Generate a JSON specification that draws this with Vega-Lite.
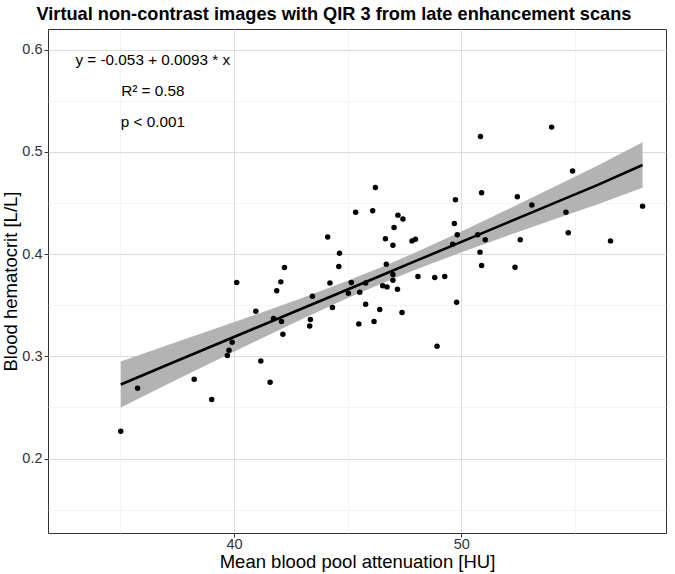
{
  "$schema": "https://vega.github.io/schema/vega-lite/v6.json",
  "width": 618,
  "height": 504,
  "autosize": {"type": "none"},
  "padding": {"left": 48, "top": 29, "right": 9, "bottom": 41},
  "background": "white",
  "title": {
    "text": "Virtual non-contrast images with QIR 3 from late enhancement scans",
    "font": "Liberation Sans",
    "fontSize": 18.2,
    "fontWeight": "bold",
    "color": "#000000",
    "anchor": "middle",
    "frame": "bounds",
    "offset": 5
  },
  "config": {
    "view": {"stroke": "#333333", "strokeWidth": 1},
    "axis": {
      "labelFont": "Liberation Sans",
      "titleFont": "Liberation Sans",
      "labelFontSize": 14.5,
      "titleFontSize": 18.5,
      "labelColor": "#333333",
      "titleColor": "#000000",
      "titleFontWeight": "normal",
      "tickColor": "#333333",
      "tickSize": 4,
      "domain": false,
      "gridColor": "#dcdcdc",
      "gridWidth": 1
    }
  },
  "datasets": {
    "pts": [
      {"x": 35.02, "y": 0.2267}, {"x": 35.76, "y": 0.2688}, {"x": 38.25, "y": 0.2776}, {"x": 39.02, "y": 0.2578},
      {"x": 39.71, "y": 0.3008}, {"x": 39.78, "y": 0.306}, {"x": 39.92, "y": 0.3139}, {"x": 41.18, "y": 0.2955},
      {"x": 41.59, "y": 0.2747}, {"x": 42.15, "y": 0.3217}, {"x": 40.12, "y": 0.3723}, {"x": 40.96, "y": 0.3442},
      {"x": 41.74, "y": 0.3371}, {"x": 41.88, "y": 0.3641}, {"x": 42.06, "y": 0.3729}, {"x": 42.22, "y": 0.387},
      {"x": 42.09, "y": 0.3341}, {"x": 43.45, "y": 0.3589}, {"x": 43.36, "y": 0.3361}, {"x": 43.33, "y": 0.3298},
      {"x": 44.12, "y": 0.4169}, {"x": 44.64, "y": 0.401}, {"x": 44.61, "y": 0.388}, {"x": 44.22, "y": 0.3719},
      {"x": 44.33, "y": 0.3478}, {"x": 45.16, "y": 0.3723}, {"x": 45.03, "y": 0.3618}, {"x": 45.53, "y": 0.3628},
      {"x": 45.79, "y": 0.3719}, {"x": 45.79, "y": 0.3511}, {"x": 45.49, "y": 0.3318}, {"x": 46.16, "y": 0.3341},
      {"x": 46.41, "y": 0.3459}, {"x": 46.54, "y": 0.369}, {"x": 46.73, "y": 0.368}, {"x": 46.66, "y": 0.415},
      {"x": 47.04, "y": 0.4261}, {"x": 46.99, "y": 0.4088}, {"x": 46.7, "y": 0.3902}, {"x": 46.99, "y": 0.3801},
      {"x": 46.99, "y": 0.3745}, {"x": 47.19, "y": 0.3657}, {"x": 50.84, "y": 0.5152}, {"x": 53.97, "y": 0.5243},
      {"x": 54.89, "y": 0.4813}, {"x": 50.89, "y": 0.46}, {"x": 52.46, "y": 0.4561}, {"x": 53.1, "y": 0.448},
      {"x": 49.74, "y": 0.4532}, {"x": 49.69, "y": 0.4301}, {"x": 49.82, "y": 0.4189}, {"x": 49.62, "y": 0.4098},
      {"x": 50.72, "y": 0.4189}, {"x": 51.05, "y": 0.414}, {"x": 50.82, "y": 0.402}, {"x": 50.89, "y": 0.3889},
      {"x": 52.36, "y": 0.3873}, {"x": 52.59, "y": 0.414}, {"x": 54.6, "y": 0.4411}, {"x": 54.7, "y": 0.4209},
      {"x": 56.56, "y": 0.413}, {"x": 57.97, "y": 0.447}, {"x": 49.79, "y": 0.353}, {"x": 48.09, "y": 0.3782},
      {"x": 48.83, "y": 0.3772}, {"x": 49.27, "y": 0.3782}, {"x": 47.21, "y": 0.4382}, {"x": 47.43, "y": 0.4343},
      {"x": 47.83, "y": 0.413}, {"x": 47.98, "y": 0.4147}, {"x": 47.39, "y": 0.3429}, {"x": 48.93, "y": 0.3099},
      {"x": 46.22, "y": 0.4653}, {"x": 45.35, "y": 0.4411}, {"x": 46.1, "y": 0.4424}
    ],
    "band": [
      {"x": 35.02, "lo": 0.2499, "hi": 0.2951, "fit": 0.2725},
      {"x": 37, "lo": 0.2719, "hi": 0.3103, "fit": 0.2911},
      {"x": 39, "lo": 0.2938, "hi": 0.3257, "fit": 0.3097},
      {"x": 41, "lo": 0.3154, "hi": 0.3412, "fit": 0.3283},
      {"x": 43, "lo": 0.3366, "hi": 0.3572, "fit": 0.3469},
      {"x": 45, "lo": 0.357, "hi": 0.374, "fit": 0.3655},
      {"x": 46.55, "lo": 0.3719, "hi": 0.3879, "fit": 0.3799},
      {"x": 48, "lo": 0.385, "hi": 0.4018, "fit": 0.3934},
      {"x": 50, "lo": 0.4018, "hi": 0.4222, "fit": 0.412},
      {"x": 52, "lo": 0.4178, "hi": 0.4434, "fit": 0.4306},
      {"x": 54, "lo": 0.4334, "hi": 0.465, "fit": 0.4492},
      {"x": 56, "lo": 0.4488, "hi": 0.4868, "fit": 0.4678},
      {"x": 57.97, "lo": 0.4649, "hi": 0.5096, "fit": 0.4873}
    ],
    "ann": [
      {"x": 36.43, "y": 0.59, "label": "y = -0.053 + 0.0093 * x"},
      {"x": 36.43, "y": 0.56, "label": "R² = 0.58"},
      {"x": 36.43, "y": 0.529, "label": "p < 0.001"}
    ]
  },
  "layer": [
    {
      "data": {"name": "band"},
      "mark": {"type": "area", "color": "#b3b3b3", "opacity": 1},
      "encoding": {
        "x": {"field": "x", "type": "quantitative", "scale": {"domain": [31.82, 59.0], "nice": false, "zero": false},
              "axis": {"values": [35, 45, 55], "grid": true, "gridColor": "#ececec", "gridWidth": 0.6, "labels": false, "ticks": false, "title": null, "orient": "bottom"}},
        "y": {"field": "lo", "type": "quantitative", "scale": {"domain": [0.1272, 0.6203], "nice": false, "zero": false},
              "axis": {"values": [0.15, 0.25, 0.35, 0.45, 0.55], "grid": true, "gridColor": "#ececec", "gridWidth": 0.6, "labels": false, "ticks": false, "title": null, "orient": "left"}},
        "y2": {"field": "hi"}
      }
    },
    {
      "data": {"name": "band"},
      "mark": {"type": "line", "color": "#000000", "strokeWidth": 2.6},
      "encoding": {
        "x": {"field": "x", "type": "quantitative",
              "axis": {"values": [40, 50], "grid": true, "title": "Mean blood pool attenuation [HU]", "orient": "bottom", "labelPadding": 0, "titlePadding": 2}},
        "y": {"field": "fit", "type": "quantitative",
              "axis": {"values": [0.2, 0.3, 0.4, 0.5, 0.6], "grid": true, "title": "Blood hematocrit [L/L]", "orient": "left", "labelPadding": 2, "titlePadding": 1, "format": ".1f"}}
      }
    },
    {
      "data": {"name": "pts"},
      "mark": {"type": "circle", "color": "#000000", "opacity": 1, "size": 30},
      "encoding": {
        "x": {"field": "x", "type": "quantitative", "axis": null},
        "y": {"field": "y", "type": "quantitative", "axis": null}
      }
    },
    {
      "data": {"name": "ann"},
      "mark": {"type": "text", "font": "Liberation Sans", "fontSize": 15.3, "color": "#000000", "align": "center", "baseline": "middle"},
      "encoding": {
        "x": {"field": "x", "type": "quantitative", "axis": null},
        "y": {"field": "y", "type": "quantitative", "axis": null},
        "text": {"field": "label"}
      }
    }
  ],
  "resolve": {"axis": {"x": "independent", "y": "independent"}}
}
